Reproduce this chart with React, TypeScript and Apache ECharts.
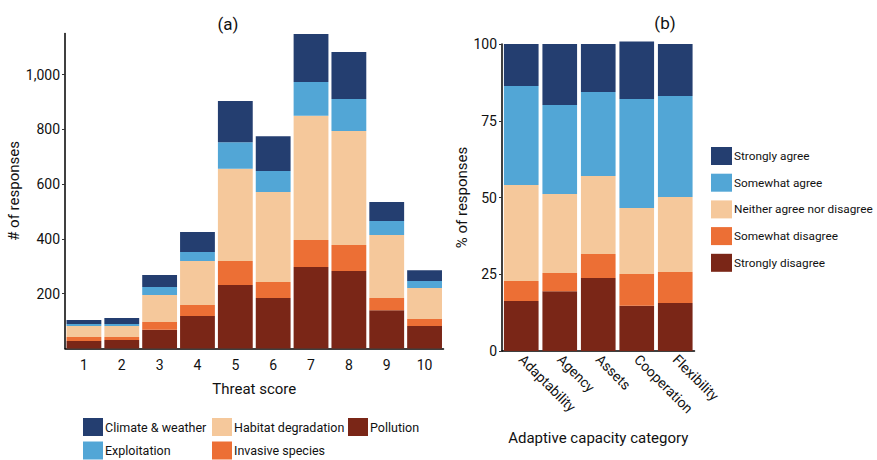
import React, { useEffect, useRef } from "react";
import * as echarts from "echarts";

const threatScores = ["1", "2", "3", "4", "5", "6", "7", "8", "9", "10"];
const pollution = [27, 31, 68, 119, 232, 184, 297, 283, 140, 82];
const invasive = [15, 11, 29, 40, 87, 59, 99, 95, 44, 26];
const habitat = [40, 40, 98, 160, 337, 328, 453, 416, 230, 113];
const exploitation = [7, 7, 29, 33, 97, 77, 124, 117, 51, 25];
const climate = [15, 22, 44, 73, 150, 127, 175, 171, 70, 40];
const countTicks = [200, 400, 600, 800, 1000];

const capacityCategories = ["Adaptability", "Agency", "Assets", "Cooperation", "Flexibility"];
const stronglyDisagree = [16.3, 19.5, 23.8, 14.7, 15.6];
const somewhatDisagree = [6.5, 5.9, 7.8, 10.4, 10.1];
const neither = [31.3, 25.7, 25.4, 21.5, 24.5];
const somewhatAgree = [32.2, 29.0, 27.4, 35.5, 32.9];
const stronglyAgree = [13.7, 19.9, 15.6, 18.7, 16.9];

const C_NAVY = "#243e70";
const C_BLUE = "#52a6d6";
const C_PEACH = "#f5c89b";
const C_ORANGE = "#ec6f35";
const C_RED = "#7a2617";

const FONT = "Roboto, 'Liberation Sans', sans-serif";
const TXT = "#111";

export default function App() {
  const ref = useRef<HTMLDivElement>(null);
  useEffect(() => {
    if (!ref.current) return;
    const chart = echarts.init(ref.current, null, { renderer: "svg" });
    const axisLine = { show: true, lineStyle: { color: "#000", width: 1.5 } };
    const leftSeries = [
      { name: "Pollution", data: pollution, color: C_RED },
      { name: "Invasive species", data: invasive, color: C_ORANGE },
      { name: "Habitat degradation", data: habitat, color: C_PEACH },
      { name: "Exploitation", data: exploitation, color: C_BLUE },
      { name: "Climate & weather", data: climate, color: C_NAVY },
    ].map((s) => ({
      type: "bar",
      name: s.name,
      data: s.data,
      stack: "a",
      xAxisIndex: 0,
      yAxisIndex: 0,
      barCategoryGap: "8%",
      itemStyle: { color: s.color },
    }));
    const rightSeries = [
      { name: "Strongly disagree", data: stronglyDisagree, color: C_RED },
      { name: "Somewhat disagree", data: somewhatDisagree, color: C_ORANGE },
      { name: "Neither agree nor disagree", data: neither, color: C_PEACH },
      { name: "Somewhat agree", data: somewhatAgree, color: C_BLUE },
      { name: "Strongly agree", data: stronglyAgree, color: C_NAVY },
    ].map((s) => ({
      type: "bar",
      name: s.name,
      data: s.data,
      stack: "b",
      xAxisIndex: 1,
      yAxisIndex: 1,
      clip: false,
      barCategoryGap: "10%",
      itemStyle: { color: s.color },
    }));
    const legendBase = {
      orient: "vertical",
      icon: "rect",
      itemWidth: 20,
      itemHeight: 18,
      padding: 0,
      selectedMode: false,
      textStyle: { fontFamily: FONT, fontSize: 12.5, color: TXT, padding: [0, 0, 0, -3] },
    };
    chart.setOption({
      animation: false,
      textStyle: { fontFamily: FONT },
      grid: [
        { left: 65, right: 433.5, top: 33.4, bottom: 111.5 },
        { left: 502, right: 182.5, top: 44, bottom: 109 },
      ],
      graphic: [
        {
          type: "text",
          x: 228,
          y: 24,
          style: { text: "(a)", font: `17px ${FONT}`, fill: TXT, textAlign: "center", textVerticalAlign: "middle" },
        },
        {
          type: "text",
          x: 665,
          y: 23,
          style: { text: "(b)", font: `17px ${FONT}`, fill: TXT, textAlign: "center", textVerticalAlign: "middle" },
        },
      ],
      legend: [
        { ...legendBase, left: 83, top: 418, itemGap: 5.5, data: ["Climate & weather", "Exploitation"] },
        { ...legendBase, left: 212, top: 418, itemGap: 5.5, data: ["Habitat degradation", "Invasive species"] },
        { ...legendBase, left: 348, top: 418, itemGap: 5.5, data: ["Pollution"] },
        {
          ...legendBase,
          left: 711,
          top: 147,
          itemWidth: 21,
          itemGap: 8.7,
          textStyle: { ...legendBase.textStyle, fontSize: 11.8 },
          data: ["Strongly agree", "Somewhat agree", "Neither agree nor disagree", "Somewhat disagree", "Strongly disagree"],
        },
      ],
      xAxis: [
        {
          type: "category",
          gridIndex: 0,
          data: threatScores,
          axisLine,
          axisTick: { alignWithLabel: true, length: 4, lineStyle: { color: "#333" } },
          axisLabel: { fontSize: 14, margin: 9, color: TXT, fontFamily: FONT },
          name: "Threat score",
          nameLocation: "middle",
          nameGap: 33,
          nameTextStyle: { fontSize: 15, color: TXT, fontFamily: FONT },
        },
        {
          type: "category",
          gridIndex: 1,
          data: capacityCategories,
          axisLine,
          axisTick: { alignWithLabel: true, length: 4, lineStyle: { color: "#333" } },
          axisLabel: { fontSize: 14, margin: 6, rotate: -45, color: TXT, fontFamily: FONT },
          name: "Adaptive capacity category",
          nameLocation: "middle",
          nameGap: 79,
          nameTextStyle: { fontSize: 15, color: TXT, fontFamily: FONT },
        },
      ],
      yAxis: [
        {
          type: "value",
          gridIndex: 0,
          min: 0,
          max: 1150,
          interval: 200,
          splitLine: { show: false },
          axisLine,
          axisTick: { show: true, length: 3, customValues: countTicks, lineStyle: { color: "#333" } },
          axisLabel: {
            fontSize: 14,
            margin: 5,
            color: TXT,
            fontFamily: FONT,
            customValues: countTicks,
            formatter: (v: number) => (v === 0 || v > 1000 ? "" : v.toLocaleString("en-US")),
          },
          name: "# of responses",
          nameLocation: "middle",
          nameGap: 35,
          nameTextStyle: { fontSize: 15, color: TXT, fontFamily: FONT },
        },
        {
          type: "value",
          gridIndex: 1,
          min: 0,
          max: 100,
          interval: 25,
          splitLine: { show: false },
          axisLine,
          axisTick: { show: true, length: 3, lineStyle: { color: "#333" } },
          axisLabel: { fontSize: 14, margin: 5, color: TXT, fontFamily: FONT },
          name: "% of responses",
          nameLocation: "middle",
          nameGap: 33,
          nameTextStyle: { fontSize: 15, color: TXT, fontFamily: FONT },
        },
      ],
      series: [...leftSeries, ...rightSeries],
    });
    return () => chart.dispose();
  }, []);
  return (
    <div
      ref={ref}
      style={{ position: "fixed", left: 0, top: 0, width: 877, height: 460, background: "#fff" }}
    />
  );
}
